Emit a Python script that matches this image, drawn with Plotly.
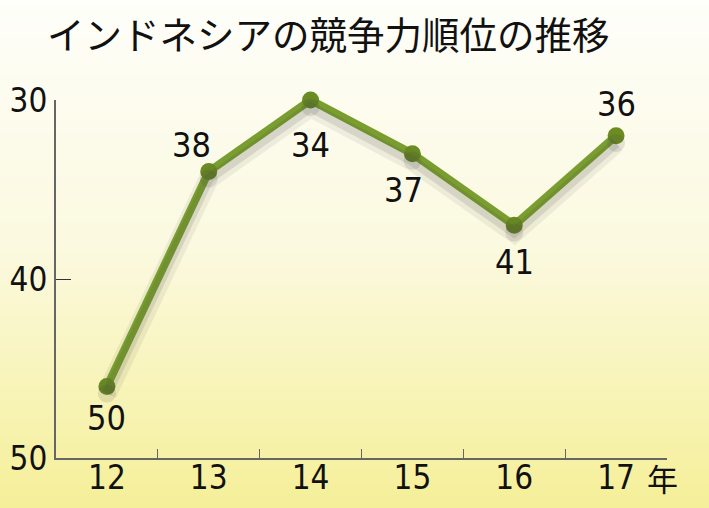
import plotly.graph_objects as go

# ---- data ----
years = ["12", "13", "14", "15", "16", "17"]
rank = [50, 38, 34, 37, 41, 36]
# positions of printed y tick labels as drawn in the original graphic
ytick_vals = [34, 44, 54]
ytick_text = ["30", "40", "50"]
title_text = "インドネシアの競争力順位の推移"
year_unit = "年"

# label placement (style): shifts in px per point
label_xshift = [0, -17, 0, -9, 0, 0]
label_yshift = [-32, 27, -45, -36, -37, 32]

W, H = 709, 508
ML, MR, MT, MB = 56, 42, 100, 50
plot_h = H - MT - MB

NUM_FONT = "Liberation Sans Narrow, DejaVu Sans Condensed, Roboto Condensed, Liberation Sans, sans-serif"

fig = go.Figure()

# soft shadow of the line (slightly lower, on an overlaid axis)
fig.add_trace(go.Scatter(x=years, y=rank, yaxis="y2", mode="lines",
                         line=dict(color="rgba(60,60,60,0.08)", width=20),
                         hoverinfo="skip", showlegend=False, cliponaxis=False))
fig.add_trace(go.Scatter(x=years, y=rank, yaxis="y2", mode="lines+markers",
                         line=dict(color="rgba(60,60,60,0.13)", width=10),
                         marker=dict(size=18, color="rgba(60,60,60,0.13)"),
                         hoverinfo="skip", showlegend=False, cliponaxis=False))
# main line
fig.add_trace(go.Scatter(x=years, y=rank, mode="lines+markers",
                         line=dict(color="#7ea62e", width=8),
                         marker=dict(size=17, color="#6b8c22"),
                         showlegend=False, cliponaxis=False))

annotations = []
for i, v in enumerate(rank):
    annotations.append(dict(x=i, y=v, xref="x", yref="y", text=str(v),
                            showarrow=False, xshift=label_xshift[i], yshift=label_yshift[i],
                            font=dict(family=NUM_FONT, size=34, color="#111111")))
annotations.append(dict(x=len(years) - 1, y=0, xref="x", yref="paper", text=year_unit,
                        showarrow=False, xshift=46, yshift=-19, yanchor="middle",
                        font=dict(family="Noto Sans CJK JP", size=31, color="#111111")))

# background gradient bands
shapes = []
N = 80
top_c = (254, 254, 250)
mid_c = (251, 249, 222)
bot_c = (245, 239, 152)
y_bottom = -MB / plot_h
y_top = 1 + MT / plot_h
for k in range(N):
    t = (k + 0.5) / N  # 0 top -> 1 bottom
    if t < 0.5:
        f = t / 0.5
        c = [round(top_c[j] + (mid_c[j] - top_c[j]) * f) for j in range(3)]
    else:
        f = (t - 0.5) / 0.5
        c = [round(mid_c[j] + (bot_c[j] - mid_c[j]) * f) for j in range(3)]
    y1 = y_top - (y_top - y_bottom) * k / N
    y0 = y_top - (y_top - y_bottom) * (k + 1) / N
    shapes.append(dict(type="rect", xref="paper", yref="paper",
                       x0=-ML / (W - ML - MR) - 0.02, x1=1 + MR / (W - ML - MR) + 0.02,
                       y0=y0 - 0.002, y1=y1 + 0.002, line=dict(width=0),
                       fillcolor="rgb(%d,%d,%d)" % tuple(c), layer="below"))

fig.update_layout(
    width=W, height=H,
    margin=dict(l=ML, r=MR, t=MT, b=MB),
    paper_bgcolor="#fefefa", plot_bgcolor="rgba(0,0,0,0)",
    title=dict(text=title_text, x=47 / W, xanchor="left", y=1 - 36 / H, yanchor="middle",
               font=dict(family="Noto Sans CJK JP", size=37.5, color="#111111")),
    xaxis=dict(type="category", range=[-0.5, 5.5], showgrid=False, zeroline=False,
               automargin=False,
               showline=True, linecolor="#666666", linewidth=2,
               ticks="inside", tickson="boundaries", ticklen=9, tickcolor="#666666", tickwidth=1,
               ticklabelstandoff=-11,
               tickfont=dict(family=NUM_FONT, size=33, color="#111111")),
    yaxis=dict(range=[54, 34], showgrid=False, zeroline=False, automargin=False,
               showline=True, linecolor="#666666", linewidth=2,
               tickvals=ytick_vals, ticktext=ytick_text,
               ticks="inside", ticklen=15, tickcolor="#333333", tickwidth=1,
               tickfont=dict(family=NUM_FONT, size=33, color="#111111")),
    yaxis2=dict(range=[53.6, 33.6], overlaying="y", visible=False),
    shapes=shapes, annotations=annotations,
)

fig.write_html("out.html", config={"displayModeBar": False},
               post_script="document.body.style.margin='0';document.body.style.background='#f5ef98';")
